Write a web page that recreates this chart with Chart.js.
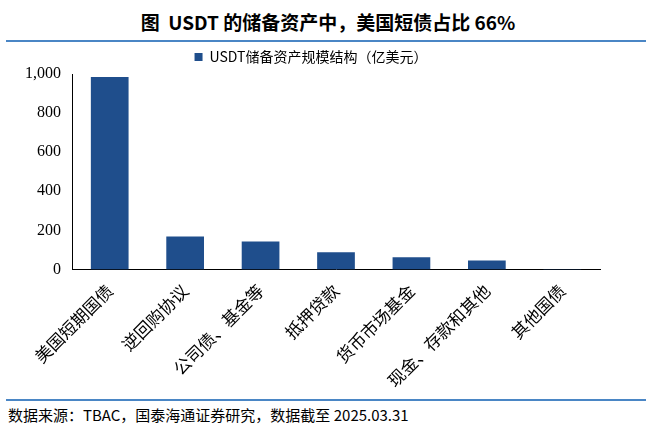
<!DOCTYPE html>
<html><head><meta charset="utf-8">
<script src="https://cdn.jsdelivr.net/npm/chart.js@4/dist/chart.umd.min.js"></script>
<style>
body{margin:0;width:656px;height:441px;background:#fff;position:relative;overflow:hidden;font-family:"Noto Sans CJK SC",sans-serif}
#t{position:absolute;top:8px;left:0;width:656px;text-align:center;font-size:19px;font-weight:bold;font-family:"Noto Sans CJK SC","Liberation Serif",serif;color:#000}
#l1{position:absolute;top:40px;left:6px;width:640px;height:2px;background:#4a86c5}
#l2{position:absolute;top:399px;left:6px;width:640px;height:2px;background:#4a86c5}
#f{position:absolute;top:404px;left:8px;font-size:15px;font-family:"Noto Sans CJK SC","Liberation Serif",serif;color:#000}
#c{position:absolute;top:46px;left:0;width:640px;height:348px}
</style></head><body>
<div id="t">图 &nbsp;USDT 的储备资产中，美国短债占比 66%</div>
<div id="l1"></div>
<div id="c"><canvas id="cv"></canvas></div>
<div id="l2"></div>
<div id="f">数据来源：TBAC，国泰海通证券研究，数据截至 2025.03.31</div>
<script>
const categories=["美国短期国债","逆回购协议","公司债、基金等","抵押贷款","货币市场基金","现金、存款和其他","其他国债"];
const values=[985,168,143,88,62,45,2];
const seriesName="USDT储备资产规模结构（亿美元）";
new Chart(document.getElementById('cv'),{
type:'bar',
data:{labels:categories,datasets:[{label:seriesName,data:values,backgroundColor:'#1f4e8c',barPercentage:0.5,categoryPercentage:1}]},
options:{responsive:true,maintainAspectRatio:false,animation:false,
layout:{padding:{top:0,right:40,left:22}},
plugins:{legend:{position:'top',align:'center',labels:{boxWidth:8,boxHeight:8,padding:4,color:'#000',font:{size:14,family:"Noto Sans CJK SC"}},onClick:null}},
scales:{
y:{min:0,max:1000,ticks:{stepSize:200,color:'#000',font:{size:16,family:"Liberation Serif"},callback:v=>v.toLocaleString('en-US')},grid:{display:false},border:{color:'#000'}},
x:{ticks:{color:'#000',maxRotation:45,minRotation:45,font:{size:17,family:"Noto Sans CJK SC"}},grid:{display:false,drawTicks:true},border:{color:'#000'}}
}}});
</script>
</body></html>
